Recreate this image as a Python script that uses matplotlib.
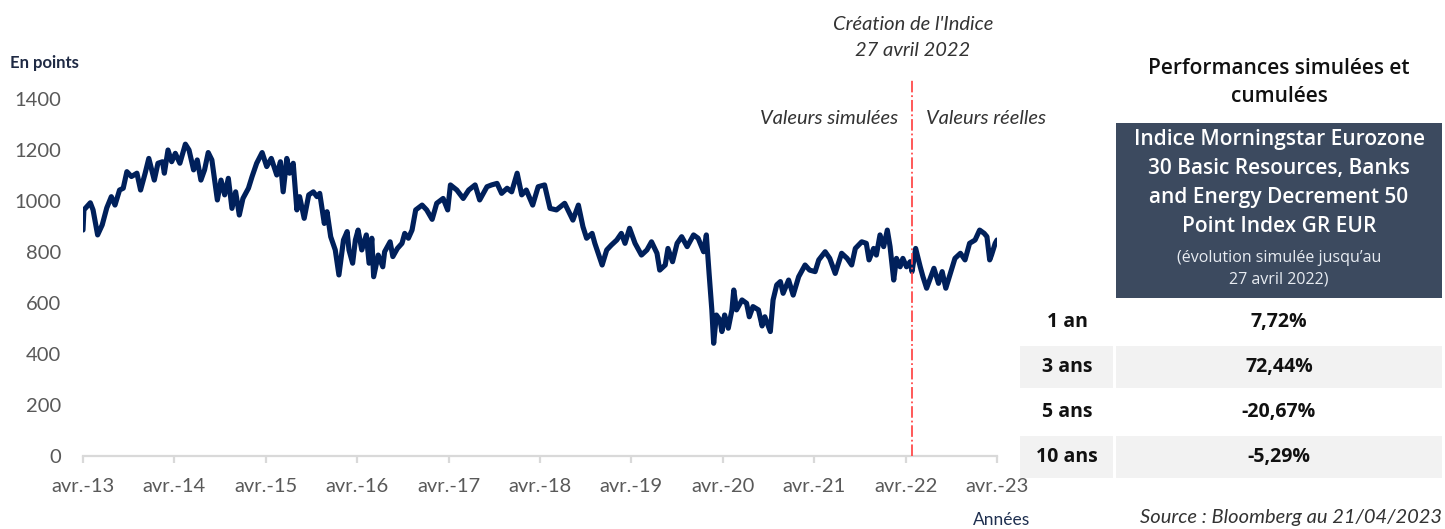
import matplotlib
matplotlib.use("Agg")
import matplotlib.pyplot as plt
from matplotlib.patches import Rectangle

# valeurs (année décimale, points)
annees = [
    2013.25, 2013.26, 2013.33, 2013.36, 2013.41, 2013.46, 2013.51, 2013.56, 2013.60, 2013.65, 2013.69, 2013.73, 2013.78, 2013.84, 2013.88, 2013.93, 2013.97,
    2014.03, 2014.07, 2014.12, 2014.14, 2014.18, 2014.22, 2014.26, 2014.31, 2014.37, 2014.41, 2014.46, 2014.50, 2014.54, 2014.58, 2014.62, 2014.66, 2014.72, 2014.76, 2014.80, 2014.84, 2014.88, 2014.92, 2014.96,
    2015.00, 2015.06, 2015.10, 2015.15, 2015.21, 2015.26, 2015.31, 2015.37, 2015.41, 2015.44, 2015.48, 2015.51, 2015.55, 2015.59, 2015.62, 2015.67, 2015.72, 2015.77, 2015.81, 2015.84, 2015.89, 2015.92, 2015.96,
    2016.01, 2016.05, 2016.10, 2016.14, 2016.16, 2016.20, 2016.23, 2016.26, 2016.30, 2016.35, 2016.38, 2016.41, 2016.43, 2016.48, 2016.53, 2016.55, 2016.61, 2016.64, 2016.69, 2016.74, 2016.77, 2016.81, 2016.85, 2016.89, 2016.96,
    2017.01, 2017.07, 2017.12, 2017.19, 2017.24, 2017.27, 2017.34, 2017.41, 2017.47, 2017.54, 2017.59, 2017.67, 2017.72, 2017.78, 2017.83, 2017.89, 2017.94,
    2018.00, 2018.05, 2018.10, 2018.17, 2018.23, 2018.30, 2018.36, 2018.43, 2018.52, 2018.61, 2018.67, 2018.72, 2018.76, 2018.82, 2018.85, 2018.93, 2018.98,
    2019.03, 2019.09, 2019.14, 2019.18, 2019.23, 2019.29, 2019.36, 2019.42, 2019.47, 2019.53, 2019.56, 2019.62, 2019.65, 2019.70, 2019.75, 2019.80, 2019.86, 2019.93, 2019.98,
    2020.04, 2020.07, 2020.10, 2020.13, 2020.15, 2020.18, 2020.22, 2020.24, 2020.27, 2020.31, 2020.35, 2020.37, 2020.40, 2020.46, 2020.51, 2020.54, 2020.58, 2020.64, 2020.68, 2020.71, 2020.77, 2020.80, 2020.84, 2020.88, 2020.91, 2020.97,
    2021.02, 2021.08, 2021.15, 2021.20, 2021.26, 2021.30, 2021.37, 2021.42, 2021.48, 2021.55, 2021.61, 2021.66, 2021.70, 2021.77, 2021.82, 2021.85, 2021.90, 2021.93, 2021.97,
    2022.01, 2022.05, 2022.08, 2022.12, 2022.15, 2022.19, 2022.22, 2022.26, 2022.30, 2022.32, 2022.36, 2022.41, 2022.44, 2022.48, 2022.52, 2022.56, 2022.61, 2022.65, 2022.69, 2022.74, 2022.79, 2022.85, 2022.90, 2022.95, 2023.01, 2023.06, 2023.11, 2023.14, 2023.17, 2023.19, 2023.23, 2023.25,
]
points = [
    886, 965, 993, 965, 867, 906, 973, 1017, 984, 1043, 1050, 1115, 1096, 1109, 1043, 1109, 1167,
    1082, 1148, 1154, 1109, 1200, 1154, 1187, 1148, 1223, 1200, 1122, 1161, 1082, 1122, 1190, 1161, 1004, 1082, 1024, 1089, 971, 1036, 945,
    1010, 1050, 1096, 1148, 1190, 1135, 1167, 1102, 1154, 1036, 1167, 1109, 1148, 965, 1017, 932, 1024, 1036, 1017, 1030, 912, 958, 860,
    808, 710, 847, 880, 808, 756, 847, 886, 808, 867, 756, 854, 703, 788, 742, 801, 840, 782, 814, 834, 873, 854, 886, 965, 984,
    965, 928, 991, 1010, 965, 1063, 1043, 1010, 1043, 1063, 1004, 1056, 1063, 1069, 1030, 1050, 1036,
    1109, 1024, 1043, 984, 1056, 1063, 971, 965, 991, 925, 984, 899, 854, 873, 834, 749, 808,
    827, 847, 873, 834, 893, 834, 788, 808, 840, 795, 729, 749, 814, 762, 834, 860, 821, 867, 854,
    801, 867, 716, 573, 442, 553, 533, 488, 553, 501, 573, 651, 573, 612, 599, 546, 586, 573, 510, 546, 488, 612, 671, 684, 638, 690,
    631, 703, 749, 729, 723, 769, 801, 775, 716, 795, 775, 749, 814, 840, 834, 769, 814, 788, 867,
    821, 886, 821, 690, 775, 742, 775, 742, 762, 723, 814, 742, 703, 658, 697, 736, 677, 723, 658, 716, 775, 795, 769, 834, 847, 886, 873, 860, 769, 788, 834, 847,
]
assert len(annees) == len(points)

ticks_annees = [2013.25 + i for i in range(11)]
ticks_labels = ["avr.-13", "avr.-14", "avr.-15", "avr.-16", "avr.-17", "avr.-18",
                "avr.-19", "avr.-20", "avr.-21", "avr.-22", "avr.-23"]
date_creation = 2022.32

periodes = ["1 an", "3 ans", "5 ans", "10 ans"]
performances = ["7,72%", "72,44%", "-20,67%", "-5,29%"]

W, H = 1445, 529
plt.rcParams["font.family"] = ["Lato", "DejaVu Sans"]

fig = plt.figure(figsize=(W / 100, H / 100), dpi=100)


def fx(px):
    return px / W


def fy(py):
    return 1 - py / H


ax = fig.add_axes([fx(83), fy(456), fx(997) - fx(83), fy(99) - fy(456)])
ax.plot(annees, points, color="#00205b", linewidth=3.7, solid_joinstyle="round",
        solid_capstyle="round")
ax.set_xlim(2013.25, 2023.25)
ax.set_ylim(0, 1400)
ax.set_yticks(range(0, 1401, 200))
ax.set_xticks(ticks_annees)
ax.set_xticklabels(ticks_labels)

for s in ["top", "right", "left"]:
    ax.spines[s].set_visible(False)
ax.spines["bottom"].set_color("#d9d9d9")
ax.spines["bottom"].set_linewidth(1.6)
ax.spines["bottom"].set_zorder(0)
ax.tick_params(axis="y", length=0, pad=16, labelsize=14.5, labelcolor="#595959")
ax.tick_params(axis="x", length=5, width=1.6, color="#d9d9d9", pad=11,
               labelsize=14.5, labelcolor="#595959")

# ligne de création de l'indice
ax.axvline(date_creation, ymin=0, ymax=(456 - 78) / (456 - 99), color="#ff4b4b",
           linestyle="-.", linewidth=1.3, clip_on=False, zorder=3)

fig.text(fx(10), fy(63), "En points", fontsize=12, fontweight="bold",
         color="#1f2a44", va="center", ha="left")
fig.text(fx(1030), fy(520), "Années", fontsize=12.5, color="#1f3050",
         va="center", ha="right")

gris = "#333333"
fig.text(fx(913), fy(25), "Création de l'Indice", fontsize=14.5, style="italic",
         color=gris, ha="center", va="center")
fig.text(fx(913), fy(50), "27 avril 2022", fontsize=14.5, style="italic",
         color=gris, ha="center", va="center")
fig.text(fx(898), fy(118), "Valeurs simulées", fontsize=14.5, style="italic",
         color=gris, ha="right", va="center")
fig.text(fx(926), fy(118), "Valeurs réelles", fontsize=14.5, style="italic",
         color=gris, ha="left", va="center")

# tableau des performances
tf = ["Open Sans", "DejaVu Sans"]
fig.text(fx(1279), fy(68), "Performances simulées et", fontsize=15,
         fontweight="semibold", family=tf, color="#111111", ha="center", va="center")
fig.text(fx(1279), fy(96), "cumulées", fontsize=15, fontweight="semibold",
         family=tf, color="#111111", ha="center", va="center")

fig.patches.append(Rectangle((fx(1116), fy(298)), fx(1442) - fx(1116), fy(123) - fy(298),
                             transform=fig.transFigure, facecolor="#3c4a5f",
                             edgecolor="none"))
titre_indice = ["Indice Morningstar Eurozone", "30 Basic Resources, Banks",
                "and Energy Decrement 50", "Point Index GR EUR"]
for i, ligne in enumerate(titre_indice):
    fig.text(fx(1279), fy(140 + i * 29), ligne, fontsize=15, fontweight="semibold",
             family=tf, color="white", ha="center", va="center")
fig.text(fx(1279), fy(258), "(évolution simulée jusqu\u2019au", fontsize=11.5,
         family=tf, color="#e8ecf2", ha="center", va="center")
fig.text(fx(1279), fy(280), "27 avril 2022)", fontsize=11.5,
         family=tf, color="#e8ecf2", ha="center", va="center")

for i, (p, v) in enumerate(zip(periodes, performances)):
    yc = 322 + i * 45
    if i % 2 == 1:
        fig.patches.append(Rectangle((fx(1020), fy(yc + 21)), fx(1113) - fx(1020), 42 / H,
                                     transform=fig.transFigure, facecolor="#f2f2f2",
                                     edgecolor="none"))
        fig.patches.append(Rectangle((fx(1116), fy(yc + 21)), fx(1442) - fx(1116), 42 / H,
                                     transform=fig.transFigure, facecolor="#f2f2f2",
                                     edgecolor="none"))
    fig.text(fx(1067), fy(yc), p, fontsize=14, fontweight="bold", family=tf,
             color="#111111", ha="center", va="center")
    fig.text(fx(1279), fy(yc), v, fontsize=14, fontweight="bold", family=tf,
             color="#111111", ha="center", va="center")

fig.text(fx(1442), fy(517), "Source : Bloomberg au 21/04/2023", fontsize=14.5,
         style="italic", color=gris, ha="right", va="center")

fig.savefig("out.png", dpi=100)
